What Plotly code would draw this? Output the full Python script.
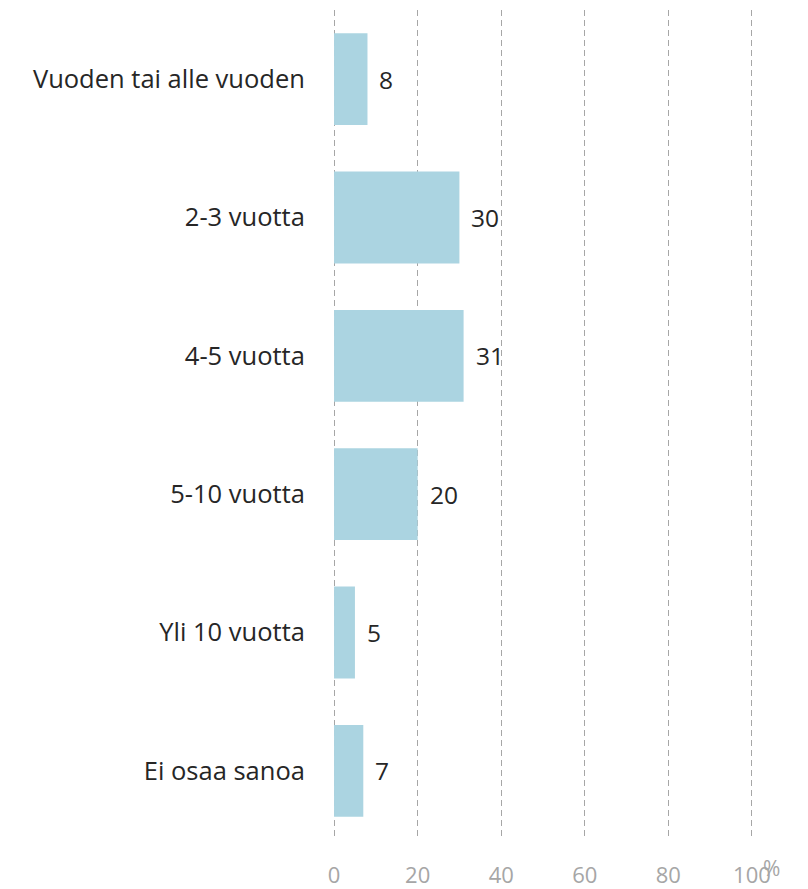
import plotly.graph_objects as go

categories = ["Vuoden tai alle vuoden", "2-3 vuotta", "4-5 vuotta", "5-10 vuotta", "Yli 10 vuotta", "Ei osaa sanoa"]
values = [8, 30, 31, 20, 5, 7]
x_ticks = [0, 20, 40, 60, 80, 100]

FONT = "Open Sans"

fig = go.Figure()
fig.add_trace(go.Bar(
    x=values, y=categories, orientation="h",
    marker=dict(color="#abd4e1", line=dict(width=0)),
    hoverinfo="skip",
))

for c, v in zip(categories, values):
    fig.add_annotation(x=v, y=c, xref="x", yref="y", text=str(v), showarrow=False,
                       xanchor="left", xshift=10, font=dict(family=FONT, size=24.5, color="#262626"))

fig.add_annotation(x=1, y=0, xref="paper", yref="paper", text="%", showarrow=False,
                   xanchor="center", yanchor="middle", xshift=18, yshift=-28,
                   font=dict(family=FONT, size=21, color="#a6a6a6"))

fig.update_layout(
    width=800, height=881,
    margin=dict(l=325, r=55, t=2, b=49),
    paper_bgcolor="white", plot_bgcolor="white",
    showlegend=False,
    bargap=0.336,
    font=dict(family=FONT),
    xaxis=dict(range=[-0.25, 100.25], tickvals=x_ticks, showgrid=True, gridcolor="#a6a6a6",
               griddash="6px,4px", gridwidth=1, zeroline=False, showline=False,
               automargin=False,
               ticks="outside", ticklen=16, tickcolor="rgba(0,0,0,0)",
               tickfont=dict(family=FONT, size=22, color="#a6a6a6"), layer="above traces"),
    yaxis=dict(autorange="reversed", showgrid=False, zeroline=False, showline=False,
               automargin=False,
               ticks="outside", ticklen=22, tickcolor="rgba(0,0,0,0)",
               tickfont=dict(family=FONT, size=25.5, color="#262626")),
)

fig.write_html("out.html")
